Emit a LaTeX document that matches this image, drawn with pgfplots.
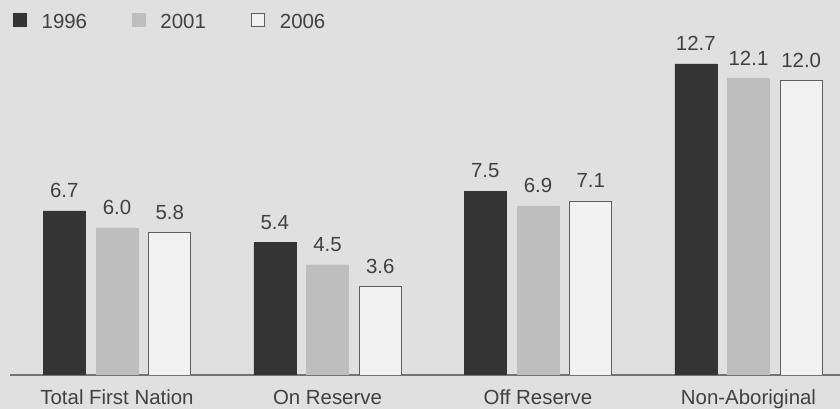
\documentclass[border=0pt]{standalone}
\usepackage{fontspec}
\setmainfont{Liberation Sans}
\usepackage{pgfplots}
\pgfplotsset{compat=1.18}
\definecolor{bg}{RGB}{224,224,224}
\definecolor{dk}{RGB}{52,52,52}
\definecolor{lt}{RGB}{190,190,190}
\definecolor{wt}{RGB}{242,242,242}
\definecolor{edge}{RGB}{95,95,95}
\definecolor{txt}{RGB}{65,65,65}
\definecolor{axl}{RGB}{115,115,115}
\newcommand{\lbl}{\fontsize{20.5}{24}\selectfont}
\pgfplotsset{sq/.style={legend image code/.code={\draw[##1] (0bp,-4.5bp) rectangle (13bp,8.5bp);}}}
\begin{document}
\begin{tikzpicture}
\useasboundingbox (0,0) rectangle (840bp,409bp);
\fill[bg] (0,0) rectangle (840bp,409bp);
\begin{axis}[
  anchor=origin, at={(117bp,34bp)},
  x=210.5bp, y=24.5bp,
  xmin=-0.508, xmax=3.435, ymin=0, ymax=15.3,
  ybar=10.7bp, bar width=42bp,
  axis x line*=bottom, axis y line=none,
  x axis line style={draw=axl, line width=1.6bp, -},
  xtick={0,1,2,3},
  xticklabels={Total First Nation, On Reserve, Off Reserve, Non-Aboriginal},
  major tick length=0pt,
  xticklabel style={font=\lbl, text=txt, anchor=base, yshift=-29bp},
  nodes near coords,
  nodes near coords style={font=\lbl, text=txt, inner sep=0pt, yshift=13bp},
  /pgf/number format/.cd, fixed, fixed zerofill, precision=1, assume math mode=true,
  /pgfplots/.cd,
  legend style={draw=none, fill=none, at={(0.0036,0.966)}, anchor=north west,
    font=\lbl, text=txt, inner sep=0pt, nodes={inner sep=0pt},
    /tikz/every odd column/.append style={column sep=15bp},
    /tikz/every even column/.append style={column sep=45bp}},
  legend columns=3,
]
\addplot[fill=dk, draw=dk, sq] coordinates {(0,6.7) (1,5.4) (2,7.5) (3,12.7)};
\addplot[fill=lt, draw=lt, sq] coordinates {(0,6.0) (1,4.5) (2,6.9) (3,12.1)};
\addplot[fill=wt, draw=edge, line width=1bp, sq] coordinates {(0,5.8) (1,3.6) (2,7.1) (3,12.0)};
\legend{1996, 2001, 2006}
\end{axis}
\end{tikzpicture}
\end{document}
